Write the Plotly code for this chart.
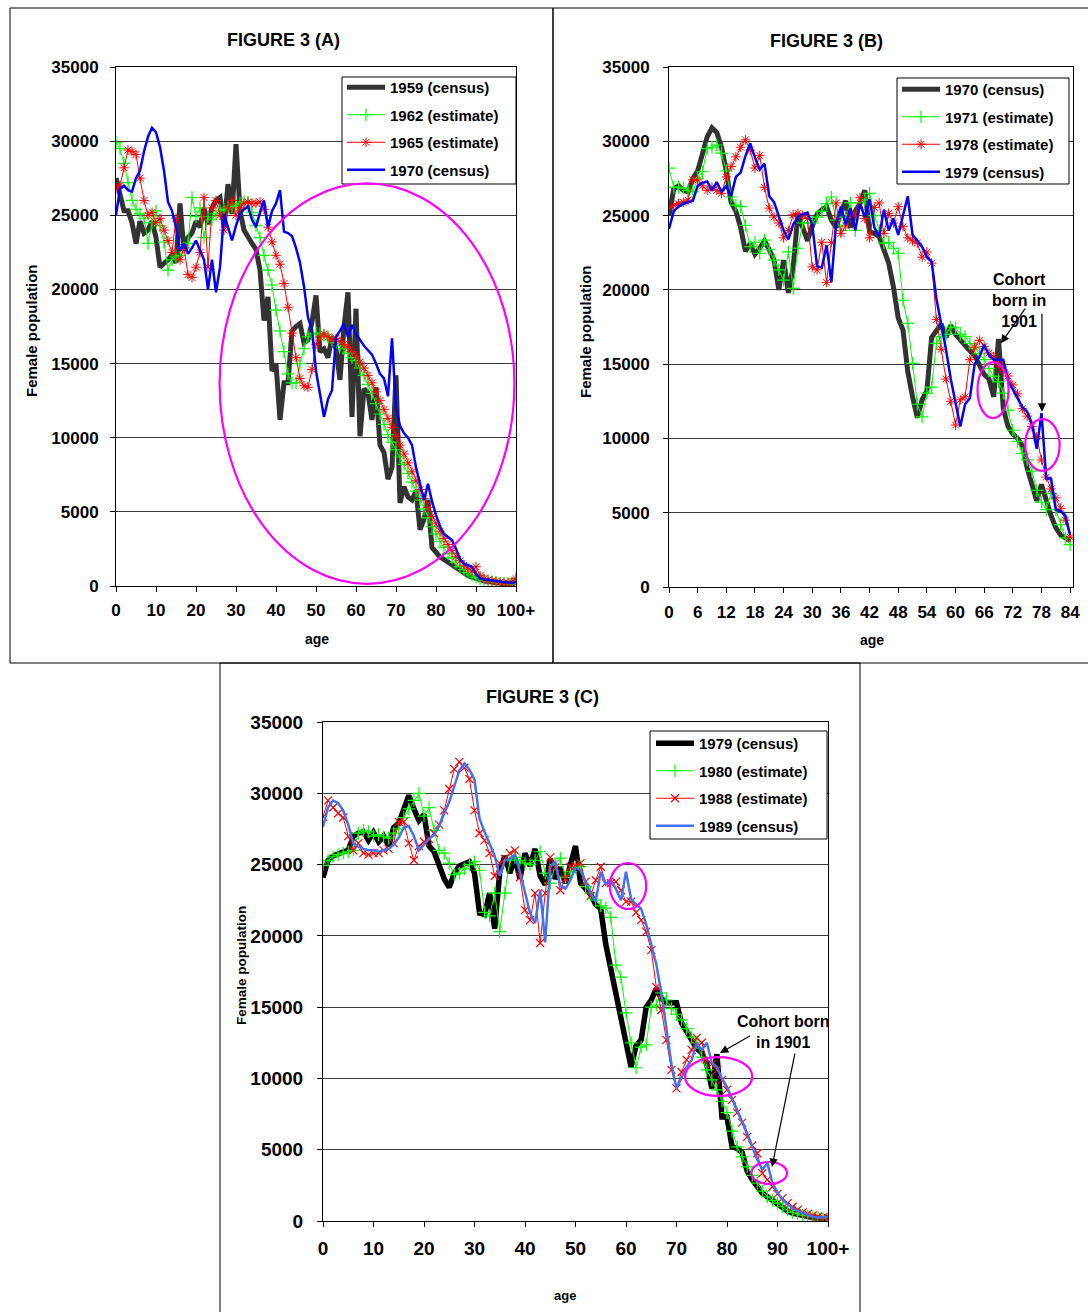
import plotly.graph_objects as go

W, H = 1088, 1312
FONT = "Liberation Sans, Arial, sans-serif"


def px(x):
    return x / W


def py(y):
    return 1 - y / H


# ---------------- data ----------------
ages_0_100 = list(range(101))
ages_0_84 = list(range(85))
y_tick_values = [0, 5000, 10000, 15000, 20000, 25000, 30000, 35000]
x_ticks_100 = [0, 10, 20, 30, 40, 50, 60, 70, 80, 90, 100]
x_ticklabels_100 = ["0", "10", "20", "30", "40", "50", "60", "70", "80", "90", "100+"]
x_ticks_84 = [0, 6, 12, 18, 24, 30, 36, 42, 48, 54, 60, 66, 72, 78, 84]

census_1959 = [27500, 26500, 25300, 25300, 24500, 23100, 24600, 23800, 24000, 24600,
               23500, 21500, 21700, 22000, 22300, 21800, 25800, 22600, 23500, 23800,
               24600, 24200, 25500, 24400, 25500, 26000, 26200, 24200, 27100, 25100,
               29800, 25300, 24000, 23500, 23100, 22700, 21300, 17900, 19500, 14500,
               15000, 11200, 13700, 13700, 17200, 17500, 17700, 16400, 16600, 17800,
               19600, 15800, 16000, 15400, 16800, 16000, 13900, 17500, 19800, 11400,
               18700, 10100, 13300, 13000, 11200, 13400, 9500, 9000, 7200, 8000,
               14200, 5600, 6700, 6000, 5800, 6400, 3800, 4500, 5800, 2600,
               2300, 1950, 1800, 1600, 1400, 1200, 1000, 850, 700, 600,
               500, 400, 350, 300, 250, 200, 180, 150, 120, 100, 300]

estimate_1962 = [29900, 29500, 28500, 27200, 26000, 25400, 25100, 24800, 23100, 24500,
                 25300, 24300, 23200, 21300, 22000, 22200, 22300, 22800, 23100, 26200,
                 24900, 25500, 23500, 24900, 24700, 25100, 25300, 25400, 25500, 25600,
                 25700, 25800, 25900, 25900, 25200, 24300, 23500, 22300, 21300, 20300,
                 18600, 17200, 15800, 14300, 13700, 13700, 15000, 16000, 16800, 17000,
                 17050, 17000, 16900, 16800, 16600, 16400, 16200, 16000, 15700, 15400,
                 15200, 14700, 14200, 13600, 13000, 12300, 11600, 10900, 10200, 9700,
                 9200, 8700, 8200, 7600, 7000, 6400, 5800, 5200, 4600, 4000,
                 3500, 3000, 2600, 2200, 1900, 1600, 1300, 1100, 900, 750,
                 600, 500, 400, 350, 300, 250, 200, 180, 150, 150, 500]

estimate_1965 = [26800, 27000, 28200, 29400, 29300, 29100, 27500, 26000, 25000, 25200,
                 24500, 24800, 24000, 23300, 22500, 24800, 22000, 22800, 21000, 20800,
                 21500, 22500, 26200, 21500, 25500, 26000, 25000, 24000, 25500, 26000,
                 25000, 25500, 25800, 25900, 25800, 25800, 25900, 25400, 24200, 23200,
                 22300, 21700, 20400, 18800, 17050, 15400, 14000, 13500, 13400, 14600,
                 16300, 16800, 17000, 16800, 16600, 16700, 16500, 16300, 16100, 15800,
                 15500, 15100, 14700, 14200, 13700, 13100, 12500, 11900, 11300, 10700,
                 10100, 9500, 8900, 8300, 7700, 7100, 6500, 5900, 5300, 4700,
                 4200, 3700, 3200, 2800, 2400, 2000, 1700, 1400, 1200, 1000,
                 1300, 700, 500, 400, 350, 300, 250, 200, 200, 300, 500]

census_1970 = [25000, 26800, 27000, 26700, 26600, 27500, 28000, 29300, 30300, 30900,
               30600, 29600, 28000, 25900, 25300, 24200, 22600, 23100, 22400, 22800,
               23300, 22700, 22000, 20000, 22000, 19800, 21500, 25100, 24200, 23300,
               24300, 25100, 25400, 25600, 24700, 24200, 25200, 26000, 24200, 25300,
               25800, 26700, 23900, 23800, 23600, 22800, 21800, 20200, 18100, 17300,
               14500, 12800, 11400, 12600, 13200, 16800, 17200, 17700, 16800, 17600,
               17000, 16600, 16200, 15900, 15600, 15000, 14300, 14000, 12800, 16700,
               12000, 10800, 10300, 10000, 9500, 8000, 6800, 5800, 6900, 5700,
               4800, 4000, 3500, 3300, 3100, 2500, 1800, 1500, 1400, 1300,
               800, 500, 450, 400, 400, 350, 300, 250, 250, 200, 300]

estimate_1971 = [28200, 26900, 26900, 26850, 26700, 26600, 27500, 27950, 29500, 29600,
                 29750, 29200, 28000, 26250, 25700, 25600, 24350, 22900, 23200, 22450,
                 23350, 22700, 22000, 21350, 20650, 22550, 20100, 22800, 24500, 24500,
                 24500, 24900, 25300, 25800, 26250, 24700, 24000, 24900, 25850, 24000,
                 25850, 26050, 26500, 25000, 24000, 23150, 23200, 22800, 22450, 19300,
                 17750, 15050, 12300, 11450, 13050, 13450, 16400, 16850, 17000, 17500,
                 17450, 17000, 16850, 16400, 16100, 15700, 15300, 14700, 14200, 13800,
                 13050, 11900, 10550, 9800, 9000, 8550, 7800, 6500, 5700, 5200,
                 6300, 5200, 4200, 3300, 2850]

estimate_1978 = [25550, 25700, 25800, 25900, 26050, 27400, 27400, 27000, 26700, 26900,
                 26700, 26500, 27600, 28300, 28950, 29600, 30100, 29400, 28200, 29050,
                 26900, 25500, 24900, 24500, 23500, 24000, 25050, 25150, 25000, 24800,
                 21550, 21350, 23200, 20500, 23200, 25850, 23800, 24300, 25150, 25000,
                 26200, 24800, 23500, 25550, 25850, 23800, 25150, 24500, 25600, 24250,
                 23500, 23300, 23150, 22200, 22550, 21800, 18000, 16000, 14000, 12500,
                 10900, 12600, 12800, 15300, 16150, 16600, 16200, 15750, 15500, 15000,
                 14600, 14200, 13600, 13000, 12000, 11500, 10800, 10100, 8550, 7400,
                 6600, 6000, 5300, 4500, 3350]

census_1979 = [24100, 25300, 25600, 25800, 25900, 26000, 27000, 27200, 27300, 26700,
               27250, 26600, 27000, 26300, 27600, 27900, 29000, 29850, 28900, 28100,
               28500, 26300, 25900, 24900, 24000, 23400, 24400, 24900, 25100, 25200,
               24400, 21600, 21500, 23000, 20500, 24500, 25600, 24400, 25500, 24000,
               25800, 24900, 26100, 24200, 23600, 25400, 24000, 24800, 23700, 25000,
               26300, 23700, 23300, 22900, 22200, 21900, 19400, 17700, 16000, 14000,
               12400, 10800, 12300, 12700, 15000, 15500, 16300, 15600, 15300, 15300,
               15300, 13900, 13300, 12700, 12100, 11800, 11000, 9300, 11700, 7300,
               7300, 5200, 5100, 4800, 3500, 2900, 2400, 1950, 1700, 1450,
               1100, 900, 700, 550, 450, 350, 300, 250, 200, 150, 250]

estimate_1980 = [24950, 25300, 25550, 25700, 25800, 25900, 26000, 27200, 27400, 27300,
                 27000, 27100, 26950, 26850, 27200, 27500, 28300, 28900, 29500, 30000,
                 28400, 29000, 27400, 26000, 25800, 25100, 24300, 24400, 24700, 25000,
                 25200, 24600, 21650, 21400, 23000, 20300, 23000, 25300, 25500, 25300,
                 25100, 25000, 25300, 25900, 24400, 23700, 25000, 25450, 24100, 24500,
                 24800, 24850, 23450, 23000, 22500, 22100, 21950, 21300, 17950, 17100,
                 14600, 12500, 10750, 12200, 12350, 15000, 15150, 16000, 15500, 14900,
                 14500, 14100, 13500, 12900, 12500, 11500, 10600, 9900, 9200, 8400,
                 7600, 6300, 5200, 4500, 3800, 3200, 2650, 2100, 1700, 1450,
                 1250, 1000, 770, 600, 500, 400, 350, 300, 250, 200, 200]

estimate_1988 = [28350, 29500, 29000, 28600, 28300, 27000, 26000, 26500, 25800, 25700,
                 25800, 25800, 26000, 26100, 26500, 28000, 28000, 26500, 25300, 26300,
                 26600, 26800, 27200, 27800, 28800, 30300, 31700, 32200, 31800, 31000,
                 28800, 27200, 26700, 25800, 24200, 25100, 25400, 25800, 26000, 24100,
                 21800, 21100, 23000, 19500, 23000, 25500, 24800, 23200, 24000, 24850,
                 24900, 25100, 23800, 22800, 23900, 24850, 23700, 23700, 23800, 23200,
                 22400, 22400, 21650, 21100, 20300, 19000, 16400, 14800, 12700, 10600,
                 9300, 10450, 11300, 12000, 12850, 12500, 11300, 11000, 10600, 9900,
                 9200, 8500, 7600, 6900, 5900, 5300, 4750, 3350, 2900, 2400,
                 1900, 1600, 1250, 1000, 800, 600, 500, 400, 300, 250, 200]

census_1989 = [27650, 29000, 29500, 29300, 28800, 27800, 26500, 26250, 26100, 26000,
               26000, 25900, 26000, 26100, 26400, 26900, 27600, 27700, 27000, 26000,
               26400, 26800, 27100, 27700, 28600, 29400, 30500, 31600, 32100, 31650,
               30950, 28200, 27300, 26500, 25600, 24200, 25300, 25400, 25700, 24500,
               23000, 21600, 20900, 23200, 19550, 24850, 25200, 23500, 23300, 23900,
               24800, 24600, 23800, 23000, 22400, 24500, 23600, 23900, 23300, 22500,
               24500, 22600, 22200, 21900, 20800, 19400, 18000, 16000, 13500, 11000,
               9300, 10000, 10800, 11300, 12500, 12000, 12500, 11100, 10800, 10000,
               9400, 8600, 7800, 7000, 6150, 5200, 4300, 3600, 4050, 2650,
               2000, 1500, 1200, 900, 700, 550, 400, 300, 250, 250, 300]

# ---------------- styles ----------------
DARK = dict(mode="lines", line=dict(color="#333333", width=5))
BLACK = dict(mode="lines", line=dict(color="#000000", width=5.5))
GREEN = dict(mode="lines+markers", line=dict(color="#00FF00", width=1),
             marker=dict(symbol="cross-thin-open", size=9, color="#00FF00",
                         line=dict(width=1.2, color="#00FF00")))
RED_AST = dict(mode="lines+markers", line=dict(color="#FF0000", width=1),
               marker=dict(symbol="asterisk-open", size=8, color="#FF0000",
                           line=dict(width=1, color="#FF0000")))
RED_X = dict(mode="lines+markers", line=dict(color="#FF0000", width=1),
             marker=dict(symbol="x-thin-open", size=8, color="#FF0000",
                         line=dict(width=1.2, color="#FF0000")))
BLUE = dict(mode="lines", line=dict(color="#0000FF", width=2.5))
LBLUE = dict(mode="lines", line=dict(color="#4472F0", width=2.5))

fig = go.Figure()


def add(x, y, name, style, xa, ya, legend):
    fig.add_trace(go.Scatter(x=x, y=y, name=name, xaxis=xa, yaxis=ya,
                             legend=legend, legendgroup=name + legend, **style))


# Panel A
add(ages_0_100, census_1959, "1959 (census)", DARK, "x", "y", "legend")
add(ages_0_100, estimate_1962, "1962 (estimate)", GREEN, "x", "y", "legend")
add(ages_0_100, estimate_1965, "1965 (estimate)", RED_AST, "x", "y", "legend")
add(ages_0_100, census_1970, "1970 (census)", BLUE, "x", "y", "legend")
# Panel B
add(ages_0_84, census_1970[:85], "1970 (census)", DARK, "x2", "y2", "legend2")
add(ages_0_84, estimate_1971, "1971 (estimate)", GREEN, "x2", "y2", "legend2")
add(ages_0_84, estimate_1978, "1978 (estimate)", RED_AST, "x2", "y2", "legend2")
add(ages_0_84, census_1979[:85], "1979 (census)", BLUE, "x2", "y2", "legend2")
# Panel C
add(ages_0_100, census_1979, "1979 (census)", BLACK, "x3", "y3", "legend3")
add(ages_0_100, estimate_1980, "1980 (estimate)", GREEN, "x3", "y3", "legend3")
add(ages_0_100, estimate_1988, "1988 (estimate)", RED_X, "x3", "y3", "legend3")
add(ages_0_100, census_1989, "1989 (census)", LBLUE, "x3", "y3", "legend3")


def xaxis(domain, rng, tv, tt, anchor, fs, standoff):
    return dict(domain=domain, range=rng, tickvals=tv, ticktext=tt, anchor=anchor,
                ticks="outside", ticklen=5, tickcolor="black", showline=True,
                linecolor="black", linewidth=1, mirror=True, showgrid=False,
                zeroline=False, ticklabelstandoff=standoff, automargin=False,
                tickfont=dict(family=FONT, size=fs, color="black", weight="bold"))


def yaxis(domain, anchor, fs, standoff):
    return dict(domain=domain, range=[0, 35000], tickvals=y_tick_values,
                ticktext=[str(v) for v in y_tick_values], anchor=anchor,
                ticks="outside", ticklen=5, tickcolor="black", showline=True,
                linecolor="black", linewidth=1, mirror=True, showgrid=True,
                gridcolor="#3a3a3a", gridwidth=1, zeroline=False,
                ticklabelstandoff=standoff, automargin=False,
                tickfont=dict(family=FONT, size=fs, color="black", weight="bold"))


def legend_box(xp, yp, fs):
    return dict(x=px(xp), y=py(yp), xanchor="left", yanchor="top",
                borderwidth=0, bgcolor="rgba(0,0,0,0)",
                font=dict(family=FONT, size=fs, color="black", weight="bold"),
                tracegroupgap=5, itemwidth=38)


fig.update_layout(
    template="none",
    width=W, height=H, autosize=False,
    margin=dict(l=0, r=0, t=0, b=0, pad=0, autoexpand=False),
    paper_bgcolor="white", plot_bgcolor="white",
    showlegend=True,
    xaxis=xaxis([px(116), px(516)], [0, 100], x_ticks_100, x_ticklabels_100, "y", 17, 4),
    yaxis=yaxis([py(586), py(67)], "x", 17, 8),
    xaxis2=xaxis([px(669), px(1073)], [0, 84.6], x_ticks_84, [str(v) for v in x_ticks_84], "y2", 17, 5),
    yaxis2=yaxis([py(587), py(67)], "x2", 17, 10),
    xaxis3=xaxis([px(323), px(828)], [0, 100], x_ticks_100, x_ticklabels_100, "y3", 19, 5),
    yaxis3=yaxis([py(1221), py(722)], "x3", 19, 10),
    legend=legend_box(342, 71, 15),
    legend2=legend_box(897, 73, 15),
    legend3=legend_box(651, 727, 15),
)

shapes = []
# panel borders
for x0, y0, x1, y1 in [(10, 8, 553, 663), (553, 8, 1090, 663), (220, 663, 860, 1315)]:
    shapes.append(dict(type="rect", xref="paper", yref="paper", x0=px(x0), x1=px(x1),
                       y0=py(y1), y1=py(y0), line=dict(color="black", width=1),
                       layer="below"))
# legend boxes
for x0, y0, x1, y1 in [(342, 77, 516, 184), (897, 78, 1069, 184), (650, 731, 827, 839)]:
    shapes.append(dict(type="rect", xref="paper", yref="paper", x0=px(x0), x1=px(x1),
                       y0=py(y1), y1=py(y0), line=dict(color="black", width=1),
                       fillcolor="white", layer="above"))
MAG = dict(color="#FF00FF", width=2.2)
shapes.append(dict(type="circle", xref="x", yref="y", x0=25.9, x1=99.6, y0=150, y1=27150, line=MAG))
shapes.append(dict(type="circle", xref="x2", yref="y2", x0=64.6, x1=71.1, y0=11370, y1=15140, line=MAG))
shapes.append(dict(type="circle", xref="x2", yref="y2", x0=74.6, x1=81.8, y0=7810, y1=11300, line=MAG))
shapes.append(dict(type="circle", xref="x3", yref="y3", x0=56.8, x1=64.0, y0=21880, y1=25110, line=MAG))
shapes.append(dict(type="circle", xref="x3", yref="y3", x0=71.7, x1=85.0, y0=8770, y1=11500, line=MAG))
shapes.append(dict(type="circle", xref="x3", yref="y3", x0=84.8, x1=91.9, y0=2600, y1=4140, line=MAG))
fig.update_layout(shapes=shapes)

ann = []


def text(xp, yp, t, fs, angle=0):
    ann.append(dict(x=px(xp), y=py(yp), xref="paper", yref="paper", text=t,
                    showarrow=False, textangle=angle, xanchor="center", yanchor="middle",
                    font=dict(family=FONT, size=fs, color="black", weight="bold")))


text(283, 40, "FIGURE 3 (A)", 18)
text(826, 41, "FIGURE 3 (B)", 18)
text(542, 697, "FIGURE 3 (C)", 18)
text(32, 331, "Female population", 15, -90)
text(585, 332, "Female population", 15, -90)
text(241, 966, "Female population", 13.5, -90)
text(317, 639, "age", 14)
text(872, 640, "age", 14)
text(565, 1295, "age", 13)
text(1019, 300, "Cohort<br>born in<br>1901", 16)
text(783, 1032, "Cohort born<br>in 1901", 16)


def arrow(x, y, ax, ay, xr, yr):
    ann.append(dict(x=x, y=y, ax=ax, ay=ay, xref=xr, yref=yr, axref=xr, ayref=yr,
                    text="", showarrow=True, arrowhead=2, arrowsize=1.4,
                    arrowwidth=1.2, arrowcolor="black", standoff=0))


arrow(69.5, 16400, 74.8, 18840, "x2", "y2")
arrow(78.1, 11800, 78.1, 18500, "x2", "y2")
arrow(78.6, 11780, 84.9, 13050, "x3", "y3")
arrow(88.9, 3790, 93.5, 11850, "x3", "y3")
fig.update_layout(annotations=ann)

fig.write_html("out.html", config={"displayModeBar": False},
               post_script="document.body.style.margin='0';document.body.style.overflow='hidden';")
